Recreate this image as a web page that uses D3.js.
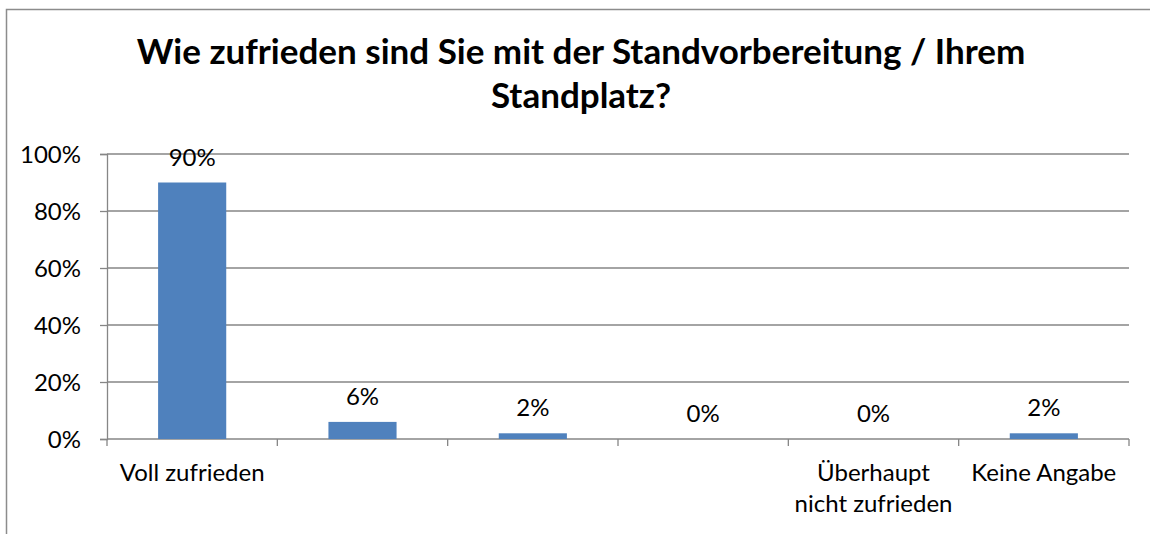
<!DOCTYPE html>
<html>
<head>
<meta charset="utf-8">
<script src="https://cdn.jsdelivr.net/npm/d3@7"></script>
<style>
  html, body { margin: 0; padding: 0; background: #fff; }
  svg { display: block; }
  text { font-family: Lato, "Open Sans", sans-serif; fill: #000; }
</style>
</head>
<body>
<svg id="chart" width="1150" height="534"></svg>
<script>
// Survey answers: satisfaction with stand preparation / stand location
const categories = ["voll", "zufrieden", "teils", "wenig", "ueberhaupt", "keine"];
const categoryLabels = [["Voll zufrieden"], [], [], [], ["Überhaupt", "nicht zufrieden"], ["Keine Angabe"]];
const shares = [90, 6, 2, 0, 0, 2];
const yTicks = [0, 20, 40, 60, 80, 100];
const titleLines = ["Wie zufrieden sind Sie mit der Standvorbereitung / Ihrem", "Standplatz?"];

const svg = d3.select("#chart");
const W = 1150, H = 534;
const margin = { top: 154, right: 21, bottom: 95, left: 107 };
const innerW = W - margin.left - margin.right;
const innerH = H - margin.top - margin.bottom;

const axisColor = "#868686";
const barColor = "#4F81BD";
const labelSize = "24px";

// Chart frame (only top and left edges fall inside the view)
svg.append("path")
  .attr("d", `M6.5,${H} V9.5 H${W}`)
  .attr("fill", "none")
  .attr("stroke", "#8c8c8c")
  .attr("stroke-width", 1.5);

// Title
const title = svg.append("text")
  .attr("x", 581)
  .attr("y", 64)
  .attr("text-anchor", "middle")
  .style("font-weight", "bold")
  .style("font-size", "35px");
titleLines.forEach((line, i) => {
  title.append("tspan").attr("x", 581).attr("dy", i === 0 ? 0 : 44).text(line);
});

const g = svg.append("g").attr("transform", `translate(${margin.left},${margin.top})`);

const x = d3.scaleBand().domain(categories).range([0, innerW]).paddingInner(0.6).paddingOuter(0.3);
const y = d3.scaleLinear().domain([0, 100]).range([innerH, 0]);

// Horizontal gridlines
g.append("g")
  .selectAll("line")
  .data(yTicks.filter(t => t > 0))
  .join("line")
  .attr("x1", 0).attr("x2", innerW)
  .attr("y1", d => y(d)).attr("y2", d => y(d))
  .attr("stroke", axisColor)
  .attr("stroke-width", 1.3);

// Y axis
const yAxis = g.append("g")
  .call(d3.axisLeft(y).tickValues(yTicks).tickSize(7).tickPadding(19).tickFormat(d => d + "%"));
yAxis.select(".domain").attr("stroke", axisColor).attr("stroke-width", 1.3);
yAxis.selectAll(".tick line").attr("stroke", axisColor).attr("stroke-width", 1.3);
yAxis.selectAll(".tick text").style("font-size", labelSize).style("font-family", "Lato, sans-serif").attr("dy", "0.35em");

// X axis baseline and category boundary ticks
const bounds = d3.range(categories.length + 1).map(i => i * innerW / categories.length);
g.append("line")
  .attr("x1", 0).attr("x2", innerW)
  .attr("y1", innerH).attr("y2", innerH)
  .attr("stroke", axisColor).attr("stroke-width", 1.3);
g.append("g")
  .selectAll("line")
  .data(bounds)
  .join("line")
  .attr("x1", d => d).attr("x2", d => d)
  .attr("y1", innerH).attr("y2", innerH + 7)
  .attr("stroke", axisColor).attr("stroke-width", 1.3);

// Category labels
g.append("g")
  .selectAll("text")
  .data(categories)
  .join("text")
  .attr("text-anchor", "middle")
  .attr("x", d => x(d) + x.bandwidth() / 2)
  .attr("y", innerH + 42)
  .style("font-size", labelSize)
  .each(function (d, i) {
    const t = d3.select(this);
    categoryLabels[i].forEach((line, j) => {
      t.append("tspan")
        .attr("x", x(d) + x.bandwidth() / 2)
        .attr("dy", j === 0 ? 0 : 31)
        .text(line);
    });
  });

// Bars
g.append("g")
  .selectAll("rect")
  .data(shares)
  .join("rect")
  .attr("x", (d, i) => x(categories[i]))
  .attr("width", x.bandwidth())
  .attr("y", d => y(d))
  .attr("height", d => innerH - y(d))
  .attr("fill", barColor);

// Value labels
g.append("g")
  .selectAll("text")
  .data(shares)
  .join("text")
  .attr("text-anchor", "middle")
  .attr("x", (d, i) => x(categories[i]) + x.bandwidth() / 2)
  .attr("y", d => y(d) - 17)
  .style("font-size", labelSize)
  .text(d => d + "%");
</script>
</body>
</html>
